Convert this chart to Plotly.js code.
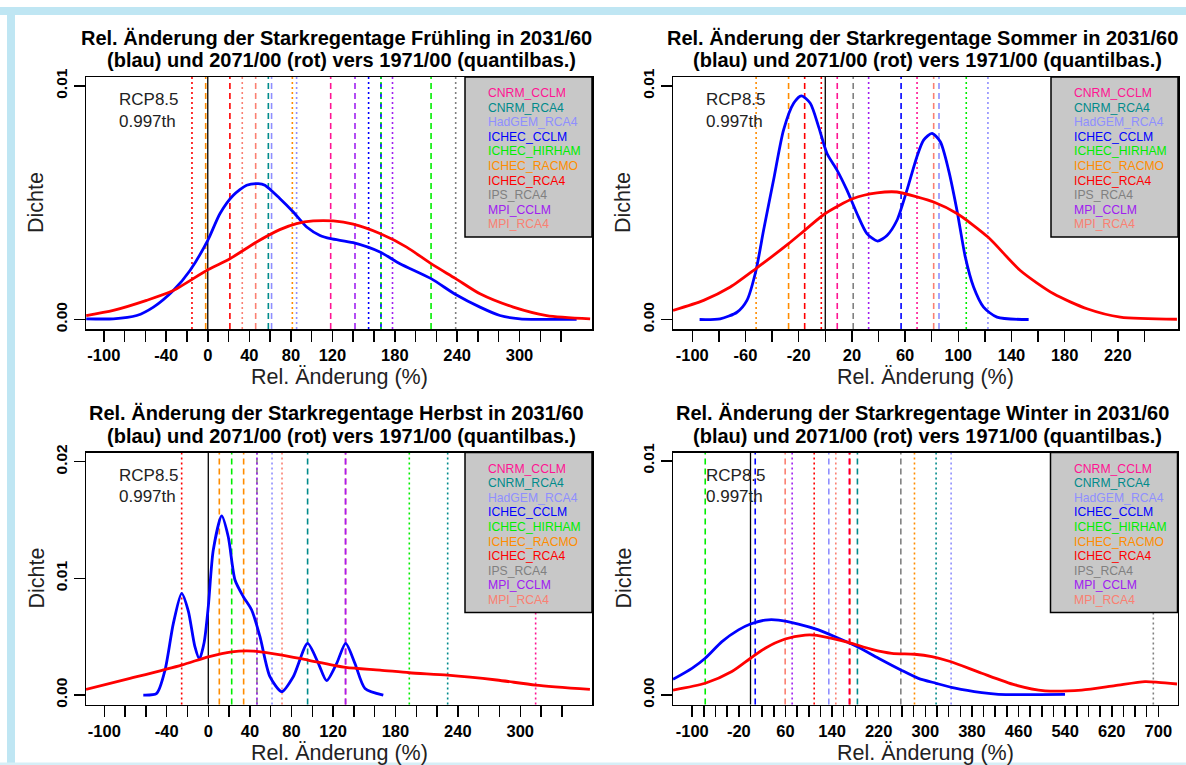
<!DOCTYPE html>
<html><head><meta charset="utf-8">
<script src="https://cdn.plot.ly/plotly-3.0.1.min.js"></script>
<style>html,body{margin:0;padding:0;background:#fff;}#chart{width:1186px;height:765px;}</style>
</head><body><div id="chart"></div>
<script>
// ---------- data ----------
const models = ['CNRM_CCLM','CNRM_RCA4','HadGEM_RCA4','ICHEC_CCLM','ICHEC_HIRHAM','ICHEC_RACMO','ICHEC_RCA4','IPS_RCA4','MPI_CCLM','MPI_RCA4'];
const seasons = ['Frühling','Sommer','Herbst','Winter'];

// Frühling
const frTicks = [-100,-80,-60,-40,-20,0,20,40,60,80,100,120,140,160,180,200,220,240,260,280,300,320,340];
const frTickLabels = ['-100','','','-40','','0','','40','','80','','120','','','180','','','240','','','300','',''];
const frBlueX = [-117,-90.9,-68.4,-52.3,-33.2,-17.1,0,11.8,24.6,37.4,48.6,55,69.3,82.3,95.2,108,118.3,140,165.7,185,214.9,238.6,262,281.2,300.5,355];
const frBlueY = [0.00003,0.00003,0.00017,0.00053,0.00124,0.0021,0.00339,0.00454,0.00532,0.00575,0.00582,0.00575,0.00518,0.0046,0.00396,0.0036,0.00346,0.00329,0.00289,0.00239,0.00175,0.00107,0.00053,0.00017,0.00003,0.00001];
const frRedX = [-117,-90.9,-58.9,-33.2,0,21.3,47,69.3,85.5,101.5,120.8,140,165.7,191.4,214.9,238.6,262,294.1,326.2,368];
const frRedY = [0.00017,0.00039,0.00082,0.00124,0.00213,0.0026,0.00332,0.00385,0.00411,0.00422,0.00422,0.00408,0.00368,0.0031,0.00239,0.00175,0.0011,0.00053,0.00017,0.00003];
const frLineX = [118.3,58.3,61.4,166.7,214.9,-2,21.3,141.7,46.1, 85.5,154.8,166.7,81.4,-15.2,238.6,177.8,33.2];
const frLineModel = ['CNRM_CCLM','CNRM_RCA4','HadGEM_RCA4','ICHEC_CCLM','ICHEC_HIRHAM','ICHEC_RACMO','ICHEC_RCA4','MPI_CCLM','MPI_RCA4',
  'HadGEM_RCA4','ICHEC_CCLM','ICHEC_HIRHAM','ICHEC_RACMO','ICHEC_RCA4','IPS_RCA4','MPI_CCLM','MPI_RCA4'];
const frLinePeriod = ['2031/60','2031/60','2031/60','2031/60','2031/60','2031/60','2031/60','2031/60','2031/60',
  '2071/00','2071/00','2071/00','2071/00','2071/00','2071/00','2071/00','2071/00'];

// Sommer
const soTicks = [-100,-80,-60,-40,-20,0,20,40,60,80,100,120,140,160,180,200,220,240];
const soTickLabels = ['-100','','-60','','-20','','20','','60','','100','','140','','180','','220',''];
const soBlueX = [-94.5,-79,-66.4,-58.9,-52.1,-46.4,-38.9,-31.4,-23.8,-18,-11.3,-5,1.3,8.8,16.3,23.8,31.3,39.3,46.4,53.9,61.4,68.9,73.9,80.2,86.5,92.7,99,105.3,111.5,119,129.1,152.9];
const soBlueY = [0,0.00003,0.00031,0.00082,0.0021,0.00382,0.00597,0.00811,0.00926,0.00958,0.00926,0.00825,0.00711,0.0064,0.00554,0.00454,0.00368,0.00336,0.0036,0.00425,0.00554,0.00697,0.00768,0.00797,0.00761,0.0064,0.00468,0.00267,0.00139,0.00053,0.0001,0];
const soRedX = [-114.5,-91.5,-71.4,-52.1,-27.6,-15.5,0,21,38.8,53.9,68.9,81.5,99,122.3,146.6,171.7,196.8,221.8,264.4];
const soRedY = [0.00039,0.00082,0.00139,0.00218,0.00325,0.00382,0.00454,0.00518,0.00542,0.00546,0.00525,0.00503,0.00454,0.00353,0.0021,0.0011,0.00046,0.0001,0.00001];
const soLineX = [9,85.5,57,-27.6,-15.5,21,81.5, 69,122.3,106,-52,-3,32.6];
const soLineModel = ['CNRM_CCLM','HadGEM_RCA4','ICHEC_CCLM','ICHEC_RACMO','ICHEC_RCA4','IPS_RCA4','MPI_RCA4',
  'CNRM_CCLM','HadGEM_RCA4','ICHEC_HIRHAM','ICHEC_RACMO','ICHEC_RCA4','MPI_CCLM'];
const soLinePeriod = ['2031/60','2031/60','2031/60','2031/60','2031/60','2031/60','2031/60',
  '2071/00','2071/00','2071/00','2071/00','2071/00','2071/00'];

// Herbst
const heTicks = frTicks;
const heTickLabels = frTickLabels;
const heBlueX = [-62.5,-49.6,-41.6,-33.6,-25.6,-19.2,-13,-8.5,-4,0,4.8,12.9,19.2,25.7,33.7,41.7,49.7,59.3,70.6,81.7,95.5,105.8,113.8,123.5,132.1,141,150.7,168.3];
const heBlueY = [0,0.00015,0.00214,0.00614,0.00872,0.0072,0.0042,0.0031,0.0045,0.00757,0.01243,0.01535,0.01357,0.00986,0.00843,0.00729,0.005,0.00157,0.00029,0.00157,0.00443,0.00272,0.00123,0.00272,0.00443,0.00272,0.00057,0];
const heRedX = [-117.6,-75.3,-25.6,0,22.5,43.3,70.9,95.5,132.1,165.1,193.3,230.2,277.3,314.8,367];
const heRedY = [0.00049,0.00143,0.00257,0.00328,0.00371,0.00377,0.00343,0.003,0.00237,0.00214,0.00191,0.00171,0.00129,0.00086,0.00049];
const heLineX = [132,95.5,22.5,10.6,34,46.8,132, 314.8,230.2,61.3,193.3,-25.6,46.8,70.9];
const heLineModel = ['CNRM_CCLM','CNRM_RCA4','ICHEC_HIRHAM','ICHEC_RACMO','ICHEC_RACMO','IPS_RCA4','MPI_CCLM',
  'CNRM_CCLM','CNRM_RCA4','HadGEM_RCA4','ICHEC_HIRHAM','ICHEC_RCA4','MPI_CCLM','MPI_RCA4'];
const heLinePeriod = ['2031/60','2031/60','2031/60','2031/60','2031/60','2031/60','2031/60',
  '2071/00','2071/00','2071/00','2071/00','2071/00','2071/00','2071/00'];

// Winter
const wiTicks = [-100,-80,-60,-40,-20,0,20,40,60,80,100,120,140,160,180,200,220,240,260,280,300,320,340,360,380,400,420,440,460,480,500,520,540,560,580,600,620,640,660,680,700];
const wiTickLabels = ['-100','','','','-20','','','','60','','','','140','','','','220','','','','300','','','','380','','','','460','','','','540','','','','620','','','','700'];
const wiBlueX = [-133,-100.5,-77.7,-49,-20.6,0,25.2,48,82.3,116.6,151,183.5,219.6,258,288.2,318.5,351.1,396.9,425.4,539.8];
const wiBlueY = [0.00067,0.00114,0.00157,0.00228,0.00278,0.00303,0.0032,0.0032,0.00303,0.00278,0.00242,0.00206,0.00157,0.00107,0.00071,0.0005,0.00029,0.0001,0.00003,0.00003];
const wiRedX = [-133,-77.7,-32,0,25.2,59.5,93.8,109.3,139.6,169.3,208.2,242.5,281.4,311.1,344.3,396.9,454,505.5,568.4,625.6,677,700,732];
const wiRedY = [0.00021,0.0005,0.001,0.00157,0.002,0.00239,0.00256,0.00256,0.00242,0.00224,0.00195,0.00178,0.00174,0.00164,0.00142,0.00093,0.00043,0.00018,0.00021,0.0004,0.00057,0.00054,0.00047];
const wiLineX = [-77.7,8.1,59.5,134.4,169.3,170.5,183.5,258, 71.5,109.3,146.4,281.4,318.5,344.3,691.3];
const wiLineModel = ['ICHEC_HIRHAM','ICHEC_CCLM','MPI_RCA4','HadGEM_RCA4','CNRM_CCLM','ICHEC_RCA4','CNRM_RCA4','IPS_RCA4',
  'MPI_CCLM','ICHEC_RCA4','MPI_RCA4','ICHEC_RACMO','CNRM_RCA4','HadGEM_RCA4','IPS_RCA4'];
const wiLinePeriod = ['2031/60','2031/60','2031/60','2031/60','2031/60','2031/60','2031/60','2031/60',
  '2071/00','2071/00','2071/00','2071/00','2071/00','2071/00','2071/00'];

// ---------- styles / layout ----------
const modelColors = {CNRM_CCLM:'#ff1493',CNRM_RCA4:'#008b8b',HadGEM_RCA4:'#8f8fff',ICHEC_CCLM:'#0000ff',ICHEC_HIRHAM:'#00ee00',
  ICHEC_RACMO:'#ff8c00',ICHEC_RCA4:'#ff0000',IPS_RCA4:'#808080',MPI_CCLM:'#a020f0',MPI_RCA4:'#fa8072'};
const periodDash = {'2031/60':'6px,4px','2071/00':'2px,3px'};
const W = 1186, H = 765;
const FONT = 'Liberation Sans, Arial, sans-serif';
const px = x => x / W, py = y => 1 - y / H;

const panels = [
  {season:seasons[0], box:[86,77,592,329], xr:[-117.2,369.8], yr:[-0.000407,0.010385], yt:[0,0.01], ytl:['0.00','0.01'],
   ticks:frTicks, tl:frTickLabels, bx:frBlueX, by:frBlueY, rx:frRedX, ry:frRedY, lx:frLineX, lm:frLineModel, lp:frLinePeriod},
  {season:seasons[1], box:[673,77,1178,329], xr:[-114.5,265.2], yr:[-0.000407,0.010385], yt:[0,0.01], ytl:['0.00','0.01'],
   ticks:soTicks, tl:soTickLabels, bx:soBlueX, by:soBlueY, rx:soRedX, ry:soRedY, lx:soLineX, lm:soLineModel, lp:soLinePeriod},
  {season:seasons[2], box:[86,452.5,592,704.5], xr:[-117.6,369], yr:[-0.00081,0.02079], yt:[0,0.01,0.02], ytl:['0.00','0.01','0.02'],
   ticks:heTicks, tl:heTickLabels, bx:heBlueX, by:heBlueY, rx:heRedX, ry:heRedY, lx:heLineX, lm:heLineModel, lp:heLinePeriod},
  {season:seasons[3], box:[673,452.5,1177.5,704.5], xr:[-133,732.8], yr:[-0.000406,0.010355], yt:[0,0.01], ytl:['0.00','0.01'],
   ticks:wiTicks, tl:wiTickLabels, bx:wiBlueX, by:wiBlueY, rx:wiRedX, ry:wiRedY, lx:wiLineX, lm:wiLineModel, lp:wiLinePeriod}
];

const traces = [], shapes = [], annotations = [];
const layout = {width:W, height:H, margin:{l:0,r:0,t:0,b:0}, paper_bgcolor:'#fff', plot_bgcolor:'#fff', showlegend:false,
  font:{family:FONT, color:'#000'}};

// outer light-blue frame
shapes.push({type:'rect', xref:'paper', yref:'paper', x0:0, x1:1, y0:py(15), y1:py(7), fillcolor:'#bfe6f3', line:{width:0}, layer:'above'});
shapes.push({type:'rect', xref:'paper', yref:'paper', x0:px(7), x1:px(15), y0:0, y1:py(7), fillcolor:'#bfe6f3', line:{width:0}, layer:'above'});
shapes.push({type:'rect', xref:'paper', yref:'paper', x0:0, x1:1, y0:0, y1:py(762.5), fillcolor:'#d6eff7', line:{width:0}, layer:'above'});

panels.forEach((p, i) => {
  const n = i === 0 ? '' : String(i + 1);
  const xa = 'x' + n, ya = 'y' + n;
  const [L, T, R, B] = p.box;
  const cx = (L + R) / 2;
  layout['xaxis' + n] = {domain:[px(L), px(R)], anchor:ya, range:p.xr, showgrid:false, zeroline:false,
    showline:true, mirror:true, linecolor:'#000', linewidth:1.5,
    ticks:'outside', ticklen:11, tickwidth:1.5, tickcolor:'#000',
    tickmode:'array', tickvals:p.ticks, ticktext:p.tl,
    tickfont:{family:FONT, size:16.5, weight:'bold', color:'#000'}, fixedrange:true};
  layout['yaxis' + n] = {domain:[py(B), py(T)], anchor:xa, range:p.yr, showgrid:false, zeroline:false,
    showline:true, mirror:true, linecolor:'#000', linewidth:1.5,
    ticks:'outside', ticklen:11, tickwidth:1.5, tickcolor:'#000',
    tickmode:'array', tickvals:p.yt, ticktext:p.ytl, tickangle:-90,
    tickfont:{family:FONT, size:15.5, weight:'bold', color:'#000'}, fixedrange:true};

  // model lines
  p.lx.forEach((v, k) => {
    shapes.push({type:'line', xref:xa, yref:ya + ' domain', x0:v, x1:v, y0:0, y1:1, layer:'below',
      line:{color:modelColors[p.lm[k]], width:1.6, dash:periodDash[p.lp[k]]}});
  });
  // zero line
  shapes.push({type:'line', xref:xa, yref:ya + ' domain', x0:0, x1:0, y0:0, y1:1, layer:'below', line:{color:'#000', width:1.3}});

  traces.push({type:'scatter', mode:'lines', x:p.bx, y:p.by, xaxis:xa, yaxis:ya, line:{color:'#0000ff', width:2.8, shape:'spline', smoothing:0.7}, hoverinfo:'skip'});
  traces.push({type:'scatter', mode:'lines', x:p.rx, y:p.ry, xaxis:xa, yaxis:ya, line:{color:'#ff0000', width:2.8, shape:'spline', smoothing:0.7}, hoverinfo:'skip'});

  // legend box
  const legL = R - 127, legB = T + 160;
  shapes.push({type:'rect', xref:'paper', yref:'paper', x0:px(legL), x1:px(R), y0:py(legB), y1:py(T),
    fillcolor:'#c8c8c8', line:{color:'#000', width:1.5}, layer:'above'});
  models.forEach((m, k) => {
    annotations.push({xref:'paper', yref:'paper', x:px(legL + 21), y:py(T + 16 + 14.6 * k), xanchor:'left', yanchor:'middle',
      text:m, showarrow:false, font:{family:FONT, size:12.2, color:modelColors[m]}});
  });

  // titles
  annotations.push({xref:'paper', yref:'paper', x:px(cx - 3), y:py(T - 39.5), xanchor:'center', yanchor:'middle', showarrow:false,
    text:'Rel. Änderung der Starkregentage ' + p.season + ' in 2031/60', font:{family:FONT, size:20, weight:'bold', color:'#000'}});
  annotations.push({xref:'paper', yref:'paper', x:px(cx + 2), y:py(T - 16.5), xanchor:'center', yanchor:'middle', showarrow:false,
    text:'(blau) und 2071/00 (rot) vers 1971/00 (quantilbas.)', font:{family:FONT, size:20, weight:'bold', color:'#000'}});
  // axis titles
  annotations.push({xref:'paper', yref:'paper', x:px(cx), y:py(B + 48), xanchor:'center', yanchor:'middle', showarrow:false,
    text:'Rel. Änderung (%)', font:{family:FONT, size:21.5, color:'#222'}});
  annotations.push({xref:'paper', yref:'paper', x:px(L - 50), y:py((T + B) / 2), xanchor:'center', yanchor:'middle', showarrow:false,
    textangle:-90, text:'Dichte', font:{family:FONT, size:21.5, color:'#222'}});
  // RCP text
  annotations.push({xref:'paper', yref:'paper', x:px(L + 31), y:py(T + 23), xanchor:'left', yanchor:'middle', showarrow:false,
    text:'RCP8.5', font:{family:FONT, size:17, color:'#222'}});
  annotations.push({xref:'paper', yref:'paper', x:px(L + 31), y:py(T + 44), xanchor:'left', yanchor:'middle', showarrow:false,
    text:'0.997th', font:{family:FONT, size:17, color:'#222'}});
});

layout.shapes = shapes;
layout.annotations = annotations;
Plotly.newPlot('chart', traces, layout, {staticPlot:true, displayModeBar:false});
</script>
</body></html>
